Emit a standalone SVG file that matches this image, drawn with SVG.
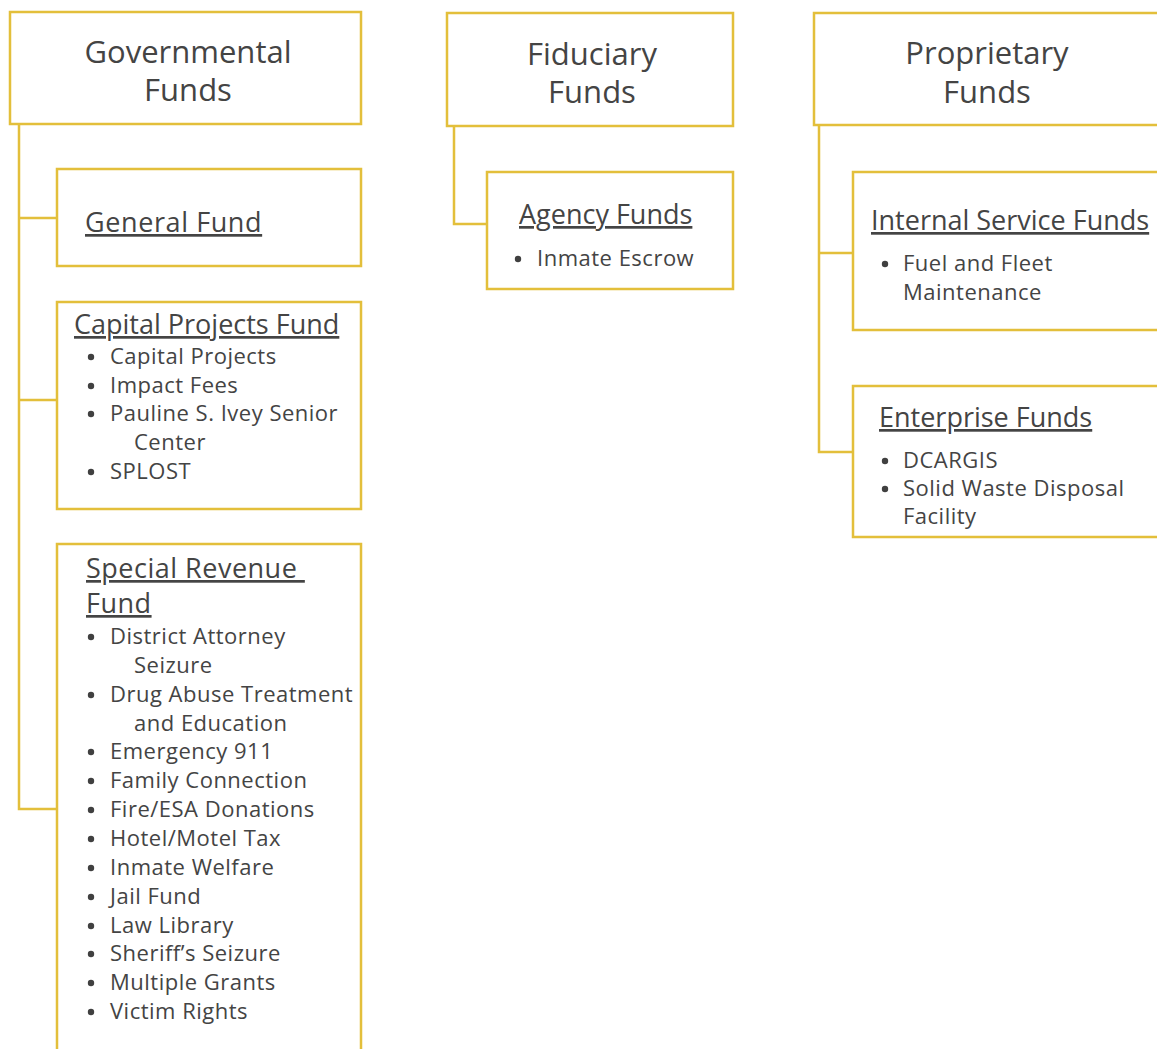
<svg xmlns="http://www.w3.org/2000/svg" width="1157" height="1049" viewBox="0 0 1157 1049">
  <style>
    .box { fill: #ffffff; stroke: #E3BF3B; stroke-width: 2.5; }
    .wire { fill: none; stroke: #E3BF3B; stroke-width: 2.5; }
    text { font-family: "Open Sans", "Noto Sans", sans-serif; fill: #444444; }
    .title { font-size: 31px; text-anchor: middle; }
    .head { font-size: 27px; text-decoration: underline; }
    .item { font-size: 22px; letter-spacing: 0.5px; }
    .dot { fill: #404040; }
  </style>
  <rect width="1157" height="1049" fill="#ffffff"/>

  <!-- connectors -->
  <g id="connectors">
    <path class="wire" d="M19 124 V809 H57 M19 218 H57 M19 400 H57"/>
    <path class="wire" d="M454 126 V224 H487"/>
    <path class="wire" d="M819 125 V452 H853 M819 253 H853"/>
  </g>

  <!-- governmental column -->
  <g id="governmental">
    <rect class="box" x="10" y="12" width="351" height="112"/>
    <text class="title" x="188" y="63">Governmental</text>
    <text class="title" x="188" y="101">Funds</text>
  </g>
  <g id="general-fund">
    <rect class="box" x="57" y="169" width="304" height="97"/>
    <text class="head" x="85" y="232" letter-spacing="0.6">General Fund</text>
  </g>
  <g id="capital-projects">
    <rect class="box" x="57" y="302" width="304" height="207"/>
    <text class="head" x="74" y="334">Capital Projects Fund</text>
    <circle class="dot" cx="91" cy="357" r="3.2"/>
    <text class="item" x="110" y="364">Capital Projects</text>
    <circle class="dot" cx="91" cy="386" r="3.2"/>
    <text class="item" x="110" y="393">Impact Fees</text>
    <circle class="dot" cx="91" cy="414" r="3.2"/>
    <text class="item" x="110" y="421">Pauline S. Ivey Senior</text>
    <text class="item" x="134" y="450">Center</text>
    <circle class="dot" cx="91" cy="472" r="3.2"/>
    <text class="item" x="110" y="479">SPLOST</text>
  </g>
  <g id="special-revenue">
    <path class="box" d="M57 1049 V544 H361 V1049"/>
    <text class="head" x="86" y="578" xml:space="preserve" letter-spacing="0.5">Special Revenue </text>
    <text class="head" x="86" y="613" letter-spacing="0.5">Fund</text>
    <g class="dot">
      <circle cx="91" cy="637" r="3.2"/>
      <circle cx="91" cy="695" r="3.2"/>
      <circle cx="91" cy="752" r="3.2"/>
      <circle cx="91" cy="781" r="3.2"/>
      <circle cx="91" cy="810" r="3.2"/>
      <circle cx="91" cy="839" r="3.2"/>
      <circle cx="91" cy="868" r="3.2"/>
      <circle cx="91" cy="897" r="3.2"/>
      <circle cx="91" cy="926" r="3.2"/>
      <circle cx="91" cy="954" r="3.2"/>
      <circle cx="91" cy="983" r="3.2"/>
      <circle cx="91" cy="1012" r="3.2"/>
    </g>
    <text class="item" x="110" y="644">District Attorney</text>
    <text class="item" x="134" y="673">Seizure</text>
    <text class="item" x="110" y="702">Drug Abuse Treatment</text>
    <text class="item" x="134" y="731">and Education</text>
    <text class="item" x="110" y="759">Emergency 911</text>
    <text class="item" x="110" y="788">Family Connection</text>
    <text class="item" x="110" y="817">Fire/ESA Donations</text>
    <text class="item" x="110" y="846">Hotel/Motel Tax</text>
    <text class="item" x="110" y="875">Inmate Welfare</text>
    <text class="item" x="110" y="904">Jail Fund</text>
    <text class="item" x="110" y="933">Law Library</text>
    <text class="item" x="110" y="961">Sheriff’s Seizure</text>
    <text class="item" x="110" y="990">Multiple Grants</text>
    <text class="item" x="110" y="1019">Victim Rights</text>
  </g>

  <!-- fiduciary column -->
  <g id="fiduciary">
    <rect class="box" x="447" y="13" width="286" height="113"/>
    <text class="title" x="592" y="65">Fiduciary</text>
    <text class="title" x="592" y="103">Funds</text>
  </g>
  <g id="agency-funds">
    <rect class="box" x="487" y="172" width="246" height="117"/>
    <text class="head" x="519" y="224">Agency Funds</text>
    <circle class="dot" cx="518" cy="259" r="3.2"/>
    <text class="item" x="537" y="266">Inmate Escrow</text>
  </g>

  <!-- proprietary column -->
  <g id="proprietary">
    <rect class="box" x="814" y="13" width="350" height="112"/>
    <text class="title" x="987" y="64">Proprietary</text>
    <text class="title" x="987" y="103">Funds</text>
  </g>
  <g id="internal-service">
    <rect class="box" x="853" y="172" width="311" height="158"/>
    <text class="head" x="871" y="230">Internal Service Funds</text>
    <circle class="dot" cx="885" cy="264" r="3.2"/>
    <text class="item" x="903" y="271">Fuel and Fleet</text>
    <text class="item" x="903" y="300">Maintenance</text>
  </g>
  <g id="enterprise">
    <rect class="box" x="853" y="386" width="311" height="151"/>
    <text class="head" x="879" y="427">Enterprise Funds</text>
    <circle class="dot" cx="885" cy="461" r="3.2"/>
    <text class="item" x="903" y="468">DCARGIS</text>
    <circle class="dot" cx="885" cy="489" r="3.2"/>
    <text class="item" x="903" y="496">Solid Waste Disposal</text>
    <text class="item" x="903" y="524">Facility</text>
  </g>
</svg>
